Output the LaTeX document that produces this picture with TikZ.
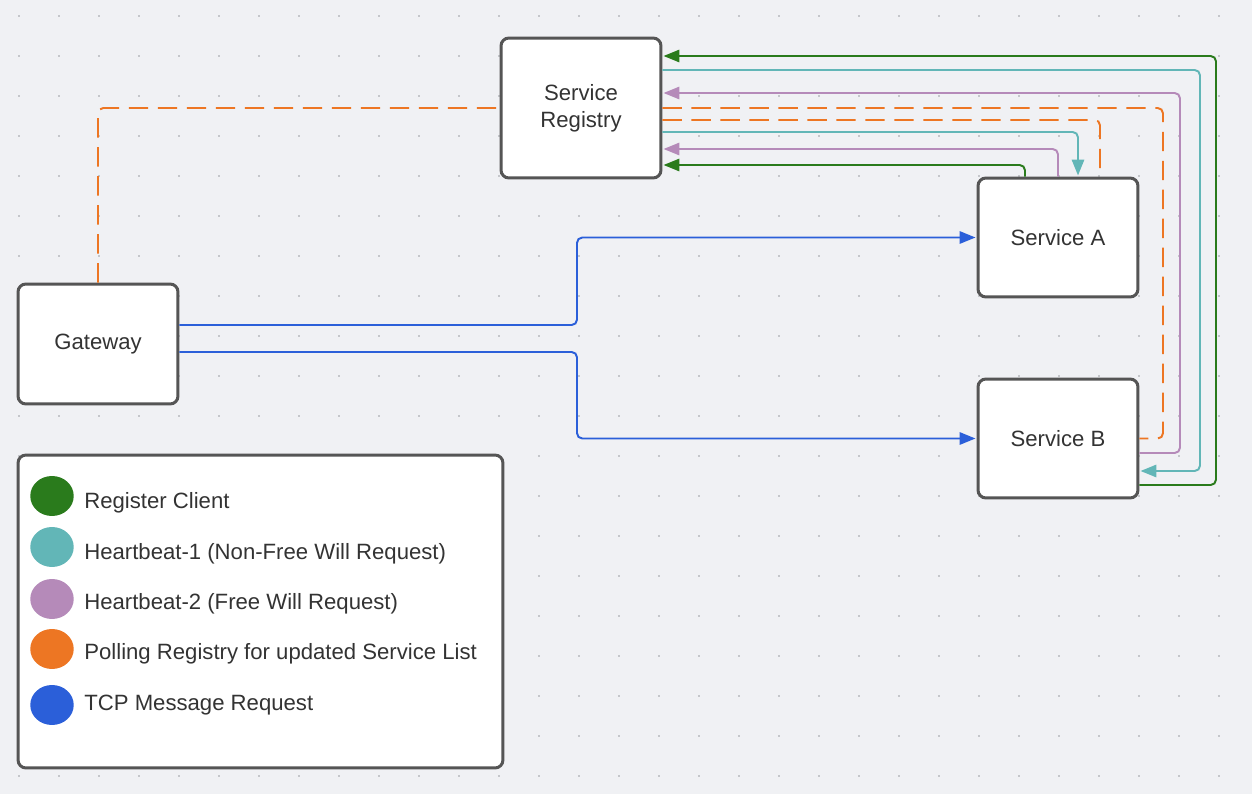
\documentclass[tikz,border=0pt]{standalone}
\usepackage{fontspec}
\setmainfont{Liberation Sans}
\usetikzlibrary{arrows.meta,shapes.geometric}

\definecolor{canvas}{HTML}{F0F1F4}
\definecolor{griddot}{HTML}{9A9CA3}
\definecolor{boxline}{HTML}{555555}
\definecolor{labeltext}{HTML}{333333}
\definecolor{regcol}{HTML}{2A7B1C}
\definecolor{beatonecol}{HTML}{62B6B7}
\definecolor{beattwocol}{HTML}{B58AB9}
\definecolor{pollcol}{HTML}{ED7623}
\definecolor{tcpcol}{HTML}{2B5FD9}

\tikzstyle{service}=[rectangle,draw=boxline,fill=white,line width=1.7pt,rounded corners=4.5pt,minimum width=3.2cm,minimum height=2.4cm,inner sep=0pt,align=center,text=labeltext,font=\fontsize{12.6}{15.3}\selectfont]
\tikzstyle{link}=[line width=1.1pt,rounded corners=3pt]
\tikzstyle{tip}=[-{Triangle[length=9pt,width=7pt]},shorten >=0.6pt]
\tikzstyle{regline}=[link,tip,draw=regcol]
\tikzstyle{beatone}=[link,draw=beatonecol]
\tikzstyle{beattwo}=[link,tip,draw=beattwocol]
\tikzstyle{polling}=[link,draw=pollcol,dash pattern=on 11pt off 5.5pt]
\tikzstyle{tcp}=[link,tip,draw=tcpcol]
\tikzstyle{swatch}=[ellipse,minimum width=0.87cm,minimum height=0.8cm,inner sep=0pt]
\tikzstyle{legendtext}=[anchor=base west,inner sep=0pt,text=labeltext,font=\fontsize{12.6}{15.3}\selectfont]

\begin{document}
\begin{tikzpicture}[x=0.02cm,y=-0.02cm]
	\useasboundingbox (0,0) rectangle (1252,794);
	\fill[canvas] (0,0) rectangle (1252,794);
	%Dot grid of the canvas
	\foreach \gx in {0,...,30}
		\foreach \gy in {0,...,19}
			\fill[griddot] (19+40*\gx,16+40*\gy) circle (0.55pt);
	%The boxes
	\node[service,minimum height=2.8cm] (reg) at (581,108) {Service\\Registry};
	\node[service] (gw) at (98,344) {Gateway};
	\node[service,minimum height=2.38cm] (sa) at (1058,237.5) {Service A};
	\node[service,minimum height=2.38cm] (sb) at (1058,438.5) {Service B};
	%Register client
	\draw[regline] (sb.east |- 0,485) -| (1216,56) -- (reg.east |- 0,56);
	\draw[regline] (sa.north -| 1025,0) |- (reg.east |- 0,165);
	%Heartbeat-1
	\draw[beatone,tip] (reg.east |- 0,70) -| (1200,471) -- (sb.east |- 0,471);
	\draw[beatone,tip] (reg.east |- 0,132) -| (sa.north -| 1078,0);
	%Heartbeat-2
	\draw[beattwo] (sb.east |- 0,453) -| (1180,93) -- (reg.east |- 0,93);
	\draw[beattwo] (sa.north) |- (reg.east |- 0,149);
	%Polling the registry
	\draw[polling] (gw.north) |- (reg.west);
	\draw[polling] (reg.east) -| (1163,0 |- sb.east) -- (sb.east);
	\draw[polling] (reg.east |- 0,120) -| (sa.north -| 1100,0);
	%TCP messages
	\draw[tcp] (gw.east |- 0,325) -| (577,0 |- sa.west) -- (sa.west);
	\draw[tcp] (gw.east |- 0,352) -| (577,0 |- sb.west) -- (sb.west);
	%Legend
	\node[service,minimum width=9.7cm,minimum height=6.26cm] (legend) at (260.5,611.5) {};
	\foreach \pos/\base/\name/\col/\txt in {{496/508/reg/regcol/Register Client},
							{547/559/beatone/beatonecol/Heartbeat-1 (Non-Free Will Request)},
							{599/609/beattwo/beattwocol/Heartbeat-2 (Free Will Request)},
							{649/659/poll/pollcol/Polling Registry for updated Service List},
							{705/710/tcp/tcpcol/TCP Message Request}}
	{
		\node[swatch,fill=\col] (\name dot) at (52,\pos) {};
		\node[legendtext] (\name text) at (84,\base) {\txt};
	}
\end{tikzpicture}
\end{document}
